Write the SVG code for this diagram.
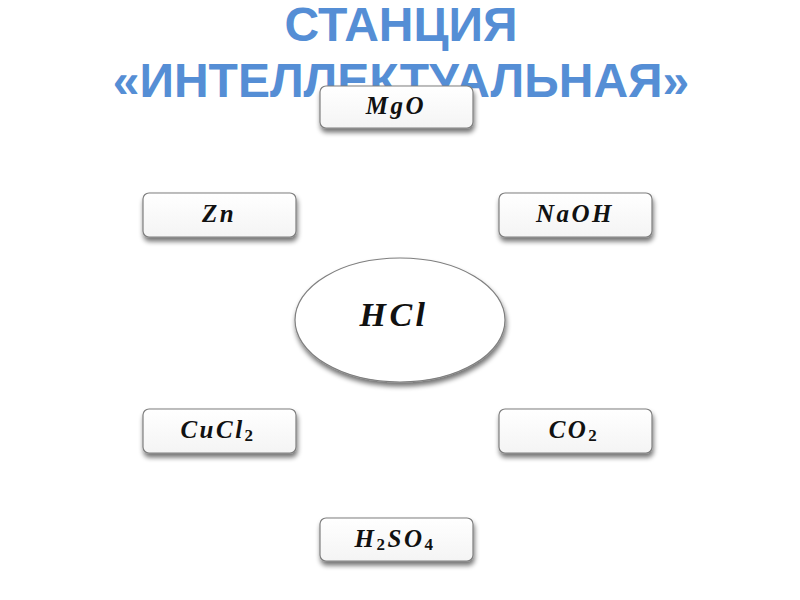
<svg xmlns="http://www.w3.org/2000/svg" width="800" height="600" viewBox="0 0 800 600">
<defs>
<filter id="sh" x="-20%" y="-30%" width="140%" height="170%">
<feGaussianBlur in="SourceAlpha" stdDeviation="2.5"/>
<feOffset dx="1" dy="4" result="b"/>
<feComponentTransfer><feFuncA type="linear" slope="0.55"/></feComponentTransfer>
<feMerge><feMergeNode/><feMergeNode in="SourceGraphic"/></feMerge>
</filter>
<linearGradient id="g" x1="0" y1="0" x2="0" y2="1">
<stop offset="0" stop-color="#ffffff"/>
<stop offset="1" stop-color="#f4f4f4"/>
</linearGradient>
</defs>
<style>
.title{font-family:"Liberation Sans",Arial,sans-serif;font-weight:bold;font-size:48px;fill:#558ed5;text-anchor:middle}
.box{fill:url(#g);stroke:#7f7f7f;stroke-width:1.2;filter:url(#sh)}
.lbl{font-family:"Liberation Serif","DejaVu Serif",serif;font-weight:bold;font-style:italic;font-size:25px;fill:#111;text-anchor:middle;letter-spacing:2.5px}
.big{font-size:34px;letter-spacing:3.5px}
.sub{font-size:17px;font-style:normal}
</style>
<rect width="800" height="600" fill="#ffffff"/>
<g id="title">
<text class="title" x="401" y="41">СТАНЦИЯ</text>
<text class="title" x="401" y="97">«ИНТЕЛЛЕКТУАЛЬНАЯ»</text>
</g>
<g id="connectors"></g>
<g id="MgO">
<rect class="box" x="320" y="86" width="153" height="42" rx="6"/>
<text class="lbl" x="396" y="114">MgO</text>
</g>
<g id="Zn">
<rect class="box" x="143" y="193" width="153" height="44" rx="6"/>
<text class="lbl" x="219" y="222">Zn</text>
</g>
<g id="NaOH">
<rect class="box" x="499" y="193" width="153" height="44" rx="6"/>
<text class="lbl" x="575" y="222">NaOH</text>
</g>
<g id="HCl">
<ellipse cx="400" cy="320" rx="105" ry="62" fill="#ffffff" stroke="#7f7f7f" stroke-width="1.2" filter="url(#sh)"/>
<text class="lbl big" x="394" y="326">HCl</text>
</g>
<g id="CuCl2">
<rect class="box" x="143" y="409" width="153" height="44" rx="6"/>
<text class="lbl" x="218" y="438">CuCl<tspan class="sub" dy="3">2</tspan></text>
</g>
<g id="CO2">
<rect class="box" x="499" y="409" width="153" height="44" rx="6"/>
<text class="lbl" x="574" y="438">CO<tspan class="sub" dy="3">2</tspan></text>
</g>
<g id="H2SO4">
<rect class="box" x="320" y="518" width="153" height="43" rx="6"/>
<text class="lbl" x="395" y="547">H<tspan class="sub" dy="3">2</tspan><tspan dy="-3">SO</tspan><tspan class="sub" dy="3">4</tspan></text>
</g>
</svg>
